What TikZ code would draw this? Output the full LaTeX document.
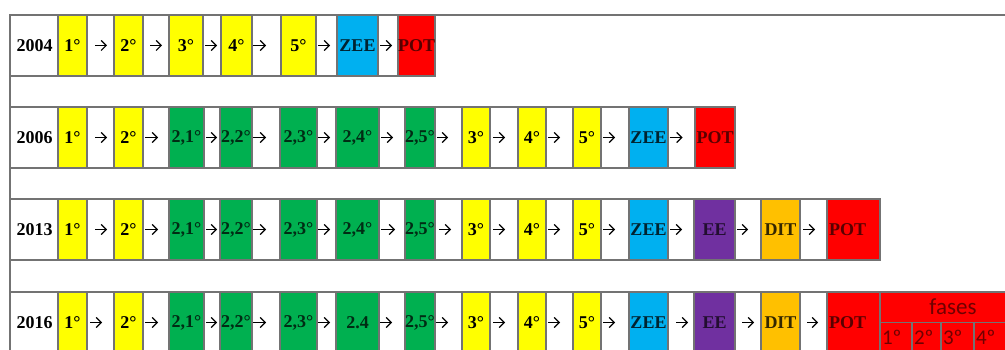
\documentclass[tikz,border=0pt]{standalone}
\usepackage{fontspec}
\setmainfont{Liberation Serif}
\newfontfamily\fasefont{Carlito}
\usepackage{xcolor}
\usepackage{tikz}
\usetikzlibrary{positioning, arrows.meta}

\definecolor{gridgray}{RGB}{115,115,115}
\definecolor{stageyellow}{RGB}{255,255,0}
\definecolor{stagegreen}{RGB}{0,176,80}
\definecolor{stageblue}{RGB}{0,176,240}
\definecolor{stagered}{RGB}{255,0,0}
\definecolor{stagepurple}{RGB}{112,48,160}
\definecolor{stageorange}{RGB}{255,192,0}
\definecolor{fasetext}{RGB}{112,0,0}

\tikzset{
  cell/.style={draw=gridgray, line width=1.2pt, minimum height=61pt, inner sep=0pt, outer sep=0pt,
    font=\fontsize{18}{20}\selectfont\bfseries},
  rowbox/.style={cell, fill=white},
  yellowbox/.style={cell, fill=stageyellow},
  greenbox/.style={cell, fill=stagegreen, text=stagegreen!25!black},
  bluebox/.style={cell, fill=stageblue, text=stageblue!20!black},
  redbox/.style={cell, fill=stagered, text=stagered!35!black},
  purplebox/.style={cell, fill=stagepurple, text=stagepurple!30!black},
  orangebox/.style={cell, fill=stageorange, text=stageorange!20!black},
  yearlabel/.style={font=\fontsize{18}{20}\selectfont\bfseries, inner xsep=6.5pt, anchor=west},
  subbox/.style={draw=gridgray, fill=stagered, line width=1.2pt, minimum height=30.5pt, inner xsep=2pt,
    outer sep=0pt, align=left, text=fasetext, font=\fasefont\fontsize{21}{22}\selectfont},
  gridline/.style={draw=gridgray, line width=1.2pt},
  nxt/.style={-{Straight Barb[length=5pt,width=10pt]}, line width=1.2pt},
}

\begin{document}
\begin{tikzpicture}[x=1pt, y=-1pt]
  \useasboundingbox (0,0) rectangle (1005,350);
  \clip (0,0) rectangle (1005,350);

  % Rows
  \node (row1) [rowbox, minimum width=425pt, anchor=north west] at (10,15) {};
  \node (row2) [rowbox, minimum width=725pt, anchor=north west] at (10,107) {};
  \node (row3) [rowbox, minimum width=870pt, anchor=north west] at (10,199) {};
  \node (row4) [rowbox, minimum width=870pt, anchor=north west] at (10,292) {};
  \coordinate (topend) at (1005,15);
  \coordinate (leftend) at (10,350);
  \draw[gridline] (row1.north west) -- (topend);
  \draw[gridline] (row1.north west) -- (leftend);

  % Years
  \node (y2004) [yearlabel] at (row1.west) {2004};
  \node (y2006) [yearlabel] at (row2.west) {2006};
  \node (y2013) [yearlabel] at (row3.west) {2013};
  \node (y2016) [yearlabel] at (row4.west) {2016};

  % Stages 2004
  \node (r1s1) [yellowbox, minimum width=29pt, anchor=west] at (58,45.5) {1°};
  \node (r1s2) [yellowbox, minimum width=29pt, right=27pt of r1s1] {2°};
  \node (r1s3) [yellowbox, minimum width=34pt, right=26pt of r1s2] {3°};
  \node (r1s4) [yellowbox, minimum width=31pt, right=18pt of r1s3] {4°};
  \node (r1s5) [yellowbox, minimum width=35pt, right=29pt of r1s4] {5°};
  \node (r1zee) [bluebox, minimum width=41pt, right=21pt of r1s5] {ZEE};
  \node (r1pot) [redbox, minimum width=37pt, right=20pt of r1zee] {POT};

  % Stages 2006, 2013, 2016
  \foreach \n/\yc/\lab in {2/137.5/{2,4°}, 3/229.5/{2,4°}, 4/322.5/{2.4}} {
    \node (r\n s1) [yellowbox, minimum width=29pt, anchor=west] at (58,\yc) {1°};
    \node (r\n s2) [yellowbox, minimum width=29pt, right=27pt of r\n s1] {2°};
    \node (r\n s3) [greenbox, minimum width=35pt, right=26pt of r\n s2] {2,1°};
    \node (r\n s4) [greenbox, minimum width=32pt, right=16pt of r\n s3] {2,2°};
    \node (r\n s5) [greenbox, minimum width=37pt, right=28pt of r\n s4] {2,3°};
    \node (r\n s6) [greenbox, minimum width=43pt, right=19pt of r\n s5] {\lab};
    \node (r\n s7) [greenbox, minimum width=30pt, right=26pt of r\n s6] {2,5°};
    \node (r\n s8) [yellowbox, minimum width=28pt, right=27pt of r\n s7] {3°};
    \node (r\n s9) [yellowbox, minimum width=28pt, right=28pt of r\n s8] {4°};
    \node (r\n s10) [yellowbox, minimum width=28pt, right=27pt of r\n s9] {5°};
    \node (r\n s11) [bluebox, minimum width=39pt, right=28pt of r\n s10] {ZEE};
  }
  \node (r2pot) [redbox, minimum width=40pt, right=27pt of r2s11] {POT};
  \foreach \n in {3,4} {
    \node (r\n ee) [purplebox, minimum width=41pt, right=26pt of r\n s11] {EE};
    \node (r\n dit) [orangebox, minimum width=39pt, right=26pt of r\n ee] {DIT};
    \node (r\n pot) [redbox, text width=49pt, align=left, inner xsep=2pt, right=27pt of r\n dit] {POT};
  }

  % Fases
  \node (fases) [redbox, minimum width=140pt, anchor=north west] at (880,292) {};
  \node (fhead) [text=fasetext, font=\fasefont\fontsize{23}{24}\selectfont] at (953,307) {fases};
  \node (f1) [subbox, text width=28pt, anchor=north west] at (fases.west) {1º};
  \node (f2) [subbox, text width=25pt, right=0pt of f1] {2º};
  \node (f3) [subbox, text width=29pt, right=0pt of f2] {3º};
  \node (f4) [subbox, text width=40pt, right=0pt of f3] {4º};

  % Arrows
  \foreach \a/\b/\s/\e in {r1s1/r1s2/8/7, r1s2/r1s3/7/7, r1s3/r1s4/2/4, r1s4/r1s5/1/15, r1s5/r1zee/2/7, r1zee/r1pot/2/6,
      r2s1/r2s2/8/7, r2s2/r2s3/2/11, r2s3/r2s4/2/3, r2s4/r2s5/1/14, r2s5/r2s6/1/6, r2s6/r2s7/2/12,
      r2s7/r2s8/2/14, r2s8/r2s9/3/13, r2s9/r2s10/2/13, r2s10/r2s11/2/14, r2s11/r2pot/1.5/12.5,
      r3s1/r3s2/8/7, r3s2/r3s3/2/11, r3s3/r3s4/2/3, r3s4/r3s5/1/14, r3s5/r3s6/1/6, r3s6/r3s7/2/10,
      r3s7/r3s8/4/11, r3s8/r3s9/3/13, r3s9/r3s10/2/13, r3s10/r3s11/2/14, r3s11/r3ee/2/12,
      r3ee/r3dit/2/13, r3dit/r3pot/3/12,
      r4s1/r4s2/3/12, r4s2/r4s3/2/11, r4s3/r4s4/2/3, r4s4/r4s5/1/14, r4s5/r4s6/1/6, r4s6/r4s7/1/13,
      r4s7/r4s8/0.5/14, r4s8/r4s9/3/13, r4s9/r4s10/2/13, r4s10/r4s11/2/14, r4s11/r4ee/8/6,
      r4ee/r4dit/7/7, r4dit/r4pot/7/9}
    \draw[nxt, shorten <=\s pt, shorten >=\e pt] (\a) -- (\b);

\end{tikzpicture}
\end{document}
